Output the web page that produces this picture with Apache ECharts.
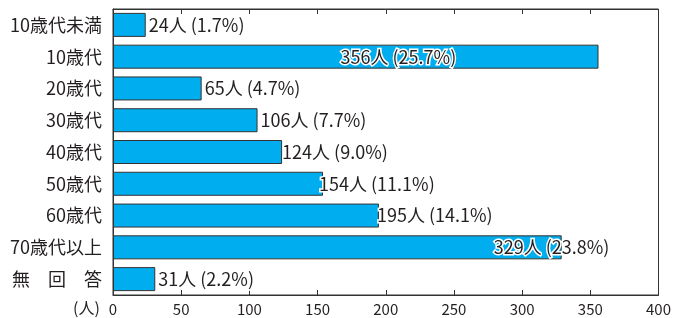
<!DOCTYPE html>
<html>
<head>
<meta charset="utf-8">
<script src="https://cdn.jsdelivr.net/npm/echarts@6/dist/echarts.min.js"></script>
<style>
  html, body { margin: 0; padding: 0; background: #fff; }
  #chart { width: 674px; height: 318px; }
</style>
</head>
<body>
<div id="chart"></div>
<script>
// 年代別の人数
var categories = ['10歳代未満', '10歳代', '20歳代', '30歳代', '40歳代', '50歳代', '60歳代', '70歳代以上', '無　回　答'];
var counts = [24, 356, 65, 106, 124, 154, 195, 329, 31];
var percents = ['1.7', '25.7', '4.7', '7.7', '9.0', '11.1', '14.1', '23.8', '2.2'];
var xTicks = [0, 50, 100, 150, 200, 250, 300, 350, 400];

// ラベルの横ずらし（元図でバーに重なっているもの）
var labelShift = { 1: -261, 4: -3, 5: -7, 6: -5, 7: -71 };

var font = '"Noto Sans CJK JP", "Liberation Sans", sans-serif';
var ink = '#231f20';

var chart = echarts.init(document.getElementById('chart'));

var barData = counts.map(function (v, i) {
    var item = { value: v };
    if (labelShift[i] !== undefined) {
        item.label = { offset: [labelShift[i], 0] };
    }
    return item;
});

chart.setOption({
    animation: false,
    grid: {
        left: 113, right: 12, top: 9, bottom: 23,
        show: true, borderColor: '#333', borderWidth: 1
    },
    graphic: [{
        type: 'text', left: 73, top: 300,
        style: { text: '(人)', font: '16px ' + font, fill: ink }
    }],
    xAxis: [{
        type: 'value', min: xTicks[0], max: xTicks[xTicks.length - 1], interval: 50,
        position: 'bottom',
        axisLine: { show: true, lineStyle: { color: '#333' } },
        axisTick: { show: true, inside: true, length: 5, lineStyle: { color: '#333' } },
        axisLabel: { color: ink, fontSize: 15, fontFamily: font, margin: 7 },
        splitLine: { show: false }
    }, {
        type: 'value', min: xTicks[0], max: xTicks[xTicks.length - 1], interval: 50,
        position: 'top',
        axisLine: { show: true, lineStyle: { color: '#333' } },
        axisTick: { show: true, inside: true, length: 5, lineStyle: { color: '#333' } },
        axisLabel: { show: false },
        splitLine: { show: false }
    }],
    yAxis: {
        type: 'category', data: categories, inverse: true,
        axisLine: { show: true, lineStyle: { color: '#333' } },
        axisTick: { show: false },
        axisLabel: { color: ink, fontSize: 18, fontFamily: font, margin: 11 }
    },
    series: [{
        type: 'bar',
        data: barData,
        barWidth: 24,
        itemStyle: { color: '#00aeef', borderColor: '#333', borderWidth: 1 },
        label: {
            show: true, position: 'right', distance: 3,
            color: ink, fontSize: 18, fontFamily: font,
            textBorderColor: '#fff', textBorderWidth: 3,
            formatter: function (p) {
                return p.value + '人 (' + percents[p.dataIndex] + '%)';
            }
        }
    }]
});
</script>
</body>
</html>
